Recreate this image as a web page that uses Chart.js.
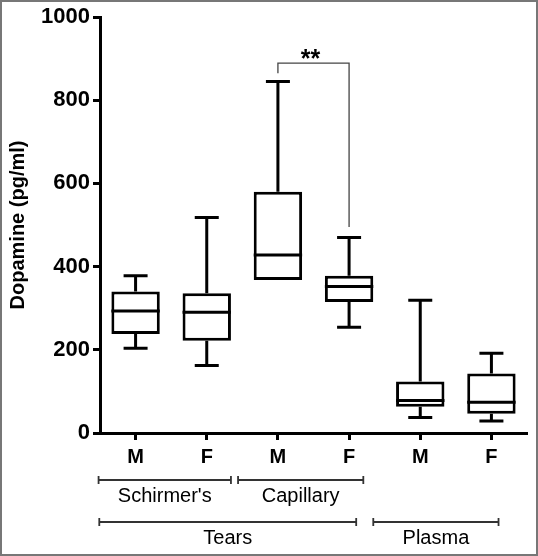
<!DOCTYPE html>
<html>
<head>
<meta charset="utf-8">
<script src="https://cdn.jsdelivr.net/npm/chart.js@4/dist/chart.umd.min.js"></script>
<style>
  html, body { margin: 0; padding: 0; background: #fff; }
  canvas { display: block; }
</style>
</head>
<body>
<canvas id="chart" width="538" height="556"></canvas>
<script>
// Dopamine values (pg/ml)
const categories = ['M', 'F', 'M', 'F', 'M', 'F'];
const whiskerLow  = [204, 162, 368, 254, 37, 29];
const quart1      = [238, 222, 368, 315, 63, 46];
const medians     = [293, 290, 428, 352, 78, 74];
const quart3      = [340, 336, 580, 378, 124, 143];
const whiskerHigh = [378, 518, 845, 470, 319, 192];

const yTicks = [0, 200, 400, 600, 800, 1000];

// group brackets under the x axis (category index units)
const subGroups  = ["Schirmer's", 'Capillary'];
const subFrom    = [-0.52, 1.44];
const subTo      = [1.34, 3.2];
const mainGroups = ['Tears', 'Plasma'];
const mainFrom   = [-0.51, 3.34];
const mainTo     = [3.1, 5.1];

// significance bracket between capillary M and F
const sigFrom = 2, sigTo = 3;
const sigLeftY = 865, sigTopY = 889, sigRightY = 495;
const sigText = '**';

const FONT = '"Liberation Sans", Arial, sans-serif';

function catPx(scale, v) {
    const p0 = scale.getPixelForValue(0);
    const p1 = scale.getPixelForValue(1);
    return p0 + v * (p1 - p0);
}

const boxPlugin = {
    id: 'boxExtras',
    afterDatasetsDraw(chart) {
        const ctx = chart.ctx;
        const y = chart.scales.y;
        const meta = chart.getDatasetMeta(0);
        ctx.save();
        ctx.strokeStyle = '#000';
        ctx.lineWidth = 3;
        ctx.lineCap = 'butt';
        meta.data.forEach((bar, i) => {
            const cx = bar.x;
            const half = bar.width / 2;
            const cap = 12;
            const yq1 = y.getPixelForValue(quart1[i]);
            const yq3 = y.getPixelForValue(quart3[i]);
            const ylo = y.getPixelForValue(whiskerLow[i]);
            const yhi = y.getPixelForValue(whiskerHigh[i]);
            const ymed = y.getPixelForValue(medians[i]);
            ctx.beginPath();
            // upper whisker
            ctx.moveTo(cx, yq3); ctx.lineTo(cx, yhi);
            ctx.moveTo(cx - cap, yhi); ctx.lineTo(cx + cap, yhi);
            // lower whisker
            if (whiskerLow[i] < quart1[i]) {
                ctx.moveTo(cx, yq1); ctx.lineTo(cx, ylo);
                ctx.moveTo(cx - cap, ylo); ctx.lineTo(cx + cap, ylo);
            }
            // median
            ctx.moveTo(cx - half, ymed); ctx.lineTo(cx + half, ymed);
            ctx.stroke();
        });

        // significance bracket
        const x = chart.scales.x;
        const xa = catPx(x, sigFrom), xb = catPx(x, sigTo);
        ctx.strokeStyle = '#444';
        ctx.lineWidth = 1.3;
        ctx.beginPath();
        ctx.moveTo(xa, y.getPixelForValue(sigLeftY));
        ctx.lineTo(xa, y.getPixelForValue(sigTopY));
        ctx.lineTo(xb, y.getPixelForValue(sigTopY));
        ctx.lineTo(xb, y.getPixelForValue(sigRightY));
        ctx.stroke();
        ctx.fillStyle = '#000';
        ctx.font = 'bold 25px ' + FONT;
        ctx.textAlign = 'center';
        ctx.textBaseline = 'bottom';
        ctx.fillText(sigText, (xa + xb) / 2 - 3, y.getPixelForValue(sigTopY) + 9);
        ctx.restore();
    },
    afterDraw(chart) {
        const ctx = chart.ctx;
        const x = chart.scales.x;
        ctx.save();
        ctx.strokeStyle = '#333';
        ctx.lineWidth = 1.8;
        ctx.fillStyle = '#000';
        ctx.font = '20px ' + FONT;
        ctx.textAlign = 'center';
        ctx.textBaseline = 'middle';
        function bracket(a, b, yy, label, ly) {
            const xa = catPx(x, a), xb = catPx(x, b);
            ctx.beginPath();
            ctx.moveTo(xa, yy); ctx.lineTo(xb, yy);
            ctx.moveTo(xa, yy - 4); ctx.lineTo(xa, yy + 4);
            ctx.moveTo(xb, yy - 4); ctx.lineTo(xb, yy + 4);
            ctx.stroke();
            ctx.fillText(label, (xa + xb) / 2, ly);
        }
        subGroups.forEach((g, i) => bracket(subFrom[i], subTo[i], 480, g, 496));
        mainGroups.forEach((g, i) => bracket(mainFrom[i], mainTo[i], 522, g, 538));

        // picture frame
        ctx.strokeStyle = '#777';
        ctx.lineWidth = 2;
        ctx.strokeRect(1, 1, chart.width - 2, chart.height - 2);
        ctx.restore();
    }
};

new Chart(document.getElementById('chart'), {
    type: 'bar',
    data: {
        labels: categories,
        datasets: [{
            data: quart1.map((q, i) => [q, quart3[i]]),
            backgroundColor: '#fff',
            borderColor: '#000',
            borderWidth: 3,
            borderSkipped: false,
            barPercentage: 0.68,
            categoryPercentage: 1
        }]
    },
    options: {
        responsive: false,
        animation: false,
        layout: { padding: { top: 17, right: 11, left: 0, bottom: 0 } },
        plugins: {
            legend: { display: false },
            tooltip: { enabled: false }
        },
        scales: {
            x: {
                offset: true,
                grid: { drawOnChartArea: false, drawTicks: true, tickLength: 7, tickWidth: 3, color: '#000', offset: false },
                border: { display: true, width: 3, color: '#000' },
                ticks: { color: '#000', padding: 5, font: { family: FONT, size: 20, weight: 'bold' } },
                afterFit(scale) { scale.height = 123; }
            },
            y: {
                min: 0,
                max: 1000,
                afterBuildTicks(scale) { scale.ticks = yTicks.map(v => ({ value: v })); },
                grid: { drawOnChartArea: false, drawTicks: true, tickLength: 7, tickWidth: 3, color: '#000' },
                border: { display: true, width: 3, color: '#000' },
                ticks: {
                    color: '#000',
                    padding: 3,
                    font: { family: FONT, size: 22, weight: 'bold' },
                    callback: v => String(v)
                },
                title: {
                    display: true,
                    text: 'Dopamine (pg/ml)',
                    color: '#000',
                    padding: { top: 6, bottom: 0 },
                    font: { family: FONT, size: 20, weight: 'bold' }
                },
                afterFit(scale) { scale.width = 100; }
            }
        }
    },
    plugins: [boxPlugin]
});
</script>
</body>
</html>
